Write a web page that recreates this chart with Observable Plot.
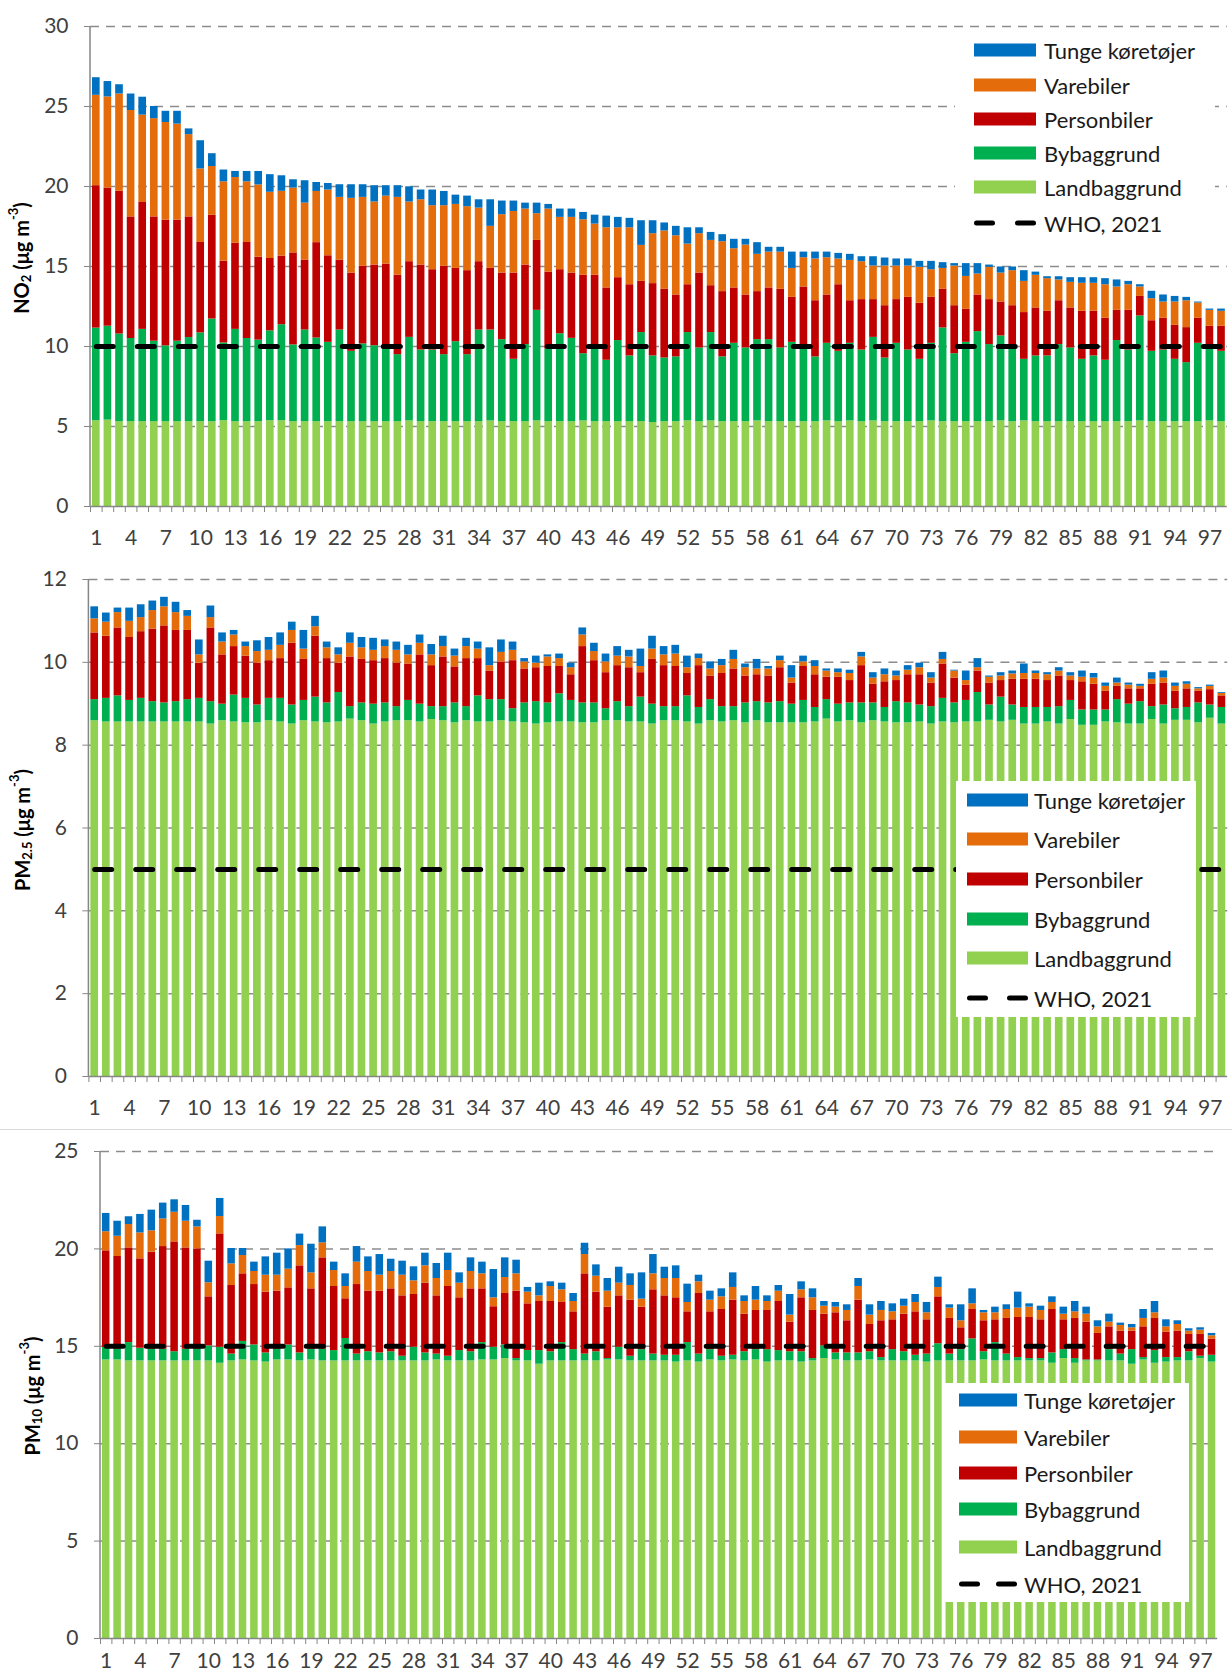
<!DOCTYPE html>
<html><head><meta charset="utf-8">
<script src="https://cdn.jsdelivr.net/npm/d3@7"></script>
<script src="https://cdn.jsdelivr.net/npm/@observablehq/plot@0.6"></script>
<style>
html,body{margin:0;padding:0;background:#fff;overflow:hidden;}
#page{position:relative;width:1232px;height:1678px;overflow:hidden;font-family:Lato, sans-serif;}
.panel{position:absolute;left:0;}
</style></head>
<body><div id="page">
<div id="p1" class="panel" style="top:0"></div>
<div id="p2" class="panel" style="top:555px"></div>
<div style="position:absolute;left:0;top:1129px;width:1232px;height:1px;background:#d9d9d9"></div>
<div id="p3" class="panel" style="top:1130px"></div>
</div>
<script>
// ---- Stack levels (top of each segment), 98 locations ----
// NO2
const no2Land = [
5.36,5.4,5.3,5.3,5.3,5.3,5.3,5.3,5.3,5.3,
5.3,5.36,5.3,5.3,5.3,5.36,5.36,5.3,5.3,5.3,
5.3,5.3,5.3,5.3,5.3,5.3,5.3,5.35,5.3,5.3,
5.3,5.3,5.3,5.3,5.35,5.3,5.3,5.3,5.35,5.3,
5.3,5.3,5.35,5.3,5.3,5.3,5.3,5.3,5.25,5.3,
5.3,5.35,5.3,5.35,5.3,5.3,5.3,5.35,5.3,5.3,
5.3,5.3,5.3,5.35,5.3,5.35,5.3,5.35,5.3,5.3,
5.3,5.3,5.35,5.3,5.3,5.3,5.3,5.3,5.35,5.3,
5.35,5.3,5.3,5.3,5.3,5.3,5.3,5.3,5.3,5.3,
5.35,5.3,5.3,5.3,5.3,5.3,5.35,5.3];
const no2By = [
11.15,11.27,10.78,10.5,11.07,10.33,10.04,10.33,10.56,10.85,
11.72,10.22,11.07,10.5,10.4,10.98,11.36,10.1,11.03,10.53,
10.26,11.03,9.7,10.16,10.05,9.85,9.49,10.57,9.78,9.78,
9.49,10.3,9.49,11.03,11.03,10.43,9.2,10.12,12.26,9.85,
10.8,10.51,9.55,9.85,9.14,10.37,9.41,10.87,9.41,9.28,
9.35,10.87,9.91,10.87,9.35,10.2,9.91,10.43,10.43,9.91,
10.26,9.85,9.35,10.2,9.7,10.2,9.78,10.57,9.28,10.2,
9.78,9.2,10.2,11.16,9.55,10.26,10.93,10.12,10.66,9.91,
9.2,9.41,9.41,10.12,9.91,9.2,9.41,9.14,10.37,9.78,
11.91,9.7,9.78,9.2,8.99,10.2,9.91,9.7];
const no2Person = [
20.05,19.9,19.7,18.1,19.0,18.1,17.9,17.9,18.1,16.5,
18.2,15.33,16.45,16.5,15.58,15.5,15.65,15.85,15.4,16.49,
15.67,15.4,14.59,15.01,15.09,15.15,14.45,15.3,15.09,14.8,
15.01,14.88,14.74,15.3,14.88,14.59,14.59,15.09,16.63,14.65,
14.8,14.59,14.45,14.45,13.66,14.3,13.86,14.07,13.93,13.57,
13.22,13.86,14.59,13.8,13.43,13.66,13.22,13.43,13.66,13.57,
13.07,13.72,12.86,13.22,13.86,12.86,12.93,12.93,12.55,12.93,
13.07,12.7,13.07,13.57,12.55,12.32,13.22,12.93,12.78,12.55,
12.12,12.41,12.2,12.86,12.41,12.2,12.2,11.76,12.26,12.26,
13.13,11.61,11.76,11.32,11.18,11.76,11.26,11.26];
const no2Vare = [
25.7,25.6,25.78,24.75,24.46,24.24,24.0,23.9,23.24,21.1,
21.25,20.29,20.56,20.29,20.1,19.64,19.7,19.9,18.96,19.69,
19.78,19.32,19.26,19.32,19.03,19.4,19.32,19.03,19.17,18.8,
18.8,18.88,18.74,18.65,17.51,18.24,18.44,18.59,18.3,18.59,
18.07,18.07,17.92,17.65,17.42,17.42,17.42,16.32,17.05,17.22,
16.92,16.4,17.05,16.63,16.55,16.11,16.34,15.76,15.9,15.9,
14.88,15.55,15.47,15.55,15.47,15.38,15.3,15.03,15.03,15.03,
15.03,14.95,14.8,14.88,15.03,14.38,14.53,14.95,14.59,14.74,
14.07,14.45,14.24,14.16,14.01,13.95,13.95,13.86,13.72,13.86,
13.72,12.99,12.78,12.78,12.86,12.72,12.26,12.2];
const no2Tunge = [
26.8,26.56,26.36,25.78,25.58,25.0,24.7,24.7,23.6,22.86,
22.05,21.03,20.94,20.94,20.94,20.74,20.67,20.42,20.36,20.25,
20.19,20.11,20.11,20.11,20.05,20.05,20.05,19.98,19.78,19.78,
19.69,19.46,19.4,19.17,19.17,19.09,19.09,18.96,18.96,18.88,
18.59,18.59,18.38,18.21,18.15,18.07,18.01,17.86,17.86,17.72,
17.51,17.42,17.42,17.13,16.99,16.7,16.7,16.49,16.2,16.2,
15.9,15.9,15.9,15.9,15.82,15.76,15.61,15.61,15.53,15.47,
15.47,15.32,15.32,15.24,15.18,15.18,15.18,15.09,14.97,14.97,
14.74,14.65,14.36,14.36,14.3,14.3,14.3,14.24,14.16,14.07,
13.86,13.45,13.22,13.13,13.07,12.78,12.34,12.34];

// PM2.5
const pm25Land = [
8.59,8.56,8.56,8.56,8.56,8.56,8.56,8.56,8.56,8.56,
8.51,8.59,8.56,8.54,8.54,8.59,8.56,8.51,8.59,8.56,
8.54,8.56,8.63,8.59,8.51,8.56,8.59,8.59,8.56,8.62,
8.59,8.54,8.59,8.56,8.56,8.59,8.56,8.54,8.51,8.54,
8.56,8.56,8.54,8.54,8.59,8.59,8.56,8.56,8.51,8.59,
8.59,8.56,8.51,8.59,8.56,8.59,8.54,8.59,8.54,8.54,
8.54,8.54,8.56,8.63,8.56,8.59,8.54,8.59,8.56,8.54,
8.54,8.56,8.51,8.56,8.54,8.56,8.56,8.6,8.56,8.6,
8.51,8.51,8.56,8.51,8.62,8.48,8.48,8.56,8.54,8.51,
8.51,8.62,8.51,8.6,8.6,8.54,8.65,8.51];
const pm25By = [
9.1,9.13,9.19,9.08,9.13,9.05,9.02,9.05,9.1,9.13,
9.05,8.99,9.21,9.13,8.97,9.13,9.13,8.97,9.08,9.16,
9.02,9.27,8.93,9.02,8.99,9.02,8.93,9.08,8.99,8.93,
8.93,9.02,8.93,9.19,9.1,9.1,8.88,9.02,9.05,9.02,
9.24,9.08,9.02,9.02,8.88,9.05,8.93,9.16,8.99,8.93,
8.93,9.19,8.91,9.1,8.93,8.93,9.02,9.05,9.02,9.05,
8.99,9.08,8.91,9.1,8.99,9.02,9.02,9.02,8.91,9.05,
9.02,8.97,8.93,9.13,9.02,9.08,9.27,8.97,9.16,8.97,
8.91,8.91,8.91,8.93,9.08,8.85,8.85,8.85,9.1,8.99,
9.05,8.93,8.97,8.88,8.91,9.02,8.97,8.91];
const pm25Person = [
10.71,10.63,10.83,10.6,10.74,10.8,10.88,10.77,10.77,9.98,
10.83,10.18,10.38,10.15,9.98,10.04,10.09,10.46,10.07,10.63,
10.09,9.98,10.13,10.07,10.04,10.09,9.98,9.96,10.18,9.92,
10.13,9.89,10.09,10.09,9.79,10.01,10.04,9.84,9.87,9.9,
9.9,9.7,10.38,10.04,9.75,9.92,9.87,9.75,10.07,9.92,
9.9,9.73,9.92,9.67,9.73,9.84,9.67,9.7,9.67,9.87,
9.5,9.9,9.7,9.64,9.64,9.56,9.92,9.47,9.53,9.56,
9.7,9.7,9.5,9.96,9.62,9.45,9.79,9.5,9.56,9.59,
9.59,9.59,9.56,9.67,9.56,9.53,9.47,9.3,9.42,9.36,
9.36,9.47,9.5,9.3,9.36,9.3,9.34,9.19];
const pm25Vare = [
11.05,10.97,11.2,10.99,11.08,11.25,11.34,11.2,11.11,10.18,
11.08,10.49,10.66,10.38,10.26,10.29,10.41,10.77,10.32,10.86,
10.35,10.18,10.46,10.35,10.29,10.38,10.29,10.18,10.46,10.18,
10.38,10.15,10.38,10.32,9.92,10.24,10.29,10.01,9.98,10.13,
10.09,9.87,10.66,10.26,10.01,10.15,10.13,9.9,10.32,10.18,
10.2,9.87,10.09,9.84,9.92,10.07,9.87,9.84,9.84,10.04,
9.62,10.01,9.9,9.79,9.75,9.73,10.13,9.62,9.7,9.67,
9.81,9.87,9.62,10.07,9.79,9.56,9.87,9.64,9.67,9.72,
9.73,9.73,9.7,9.79,9.67,9.64,9.62,9.42,9.5,9.45,
9.42,9.59,9.62,9.42,9.47,9.36,9.42,9.25];
const pm25Tunge = [
11.34,11.19,11.31,11.31,11.39,11.48,11.57,11.45,11.25,10.54,
11.36,10.71,10.77,10.49,10.52,10.6,10.71,10.97,10.77,11.11,
10.49,10.35,10.71,10.6,10.58,10.54,10.49,10.41,10.66,10.43,
10.63,10.32,10.58,10.49,10.35,10.54,10.49,10.09,10.15,10.18,
10.2,9.98,10.83,10.46,10.2,10.38,10.29,10.32,10.63,10.38,
10.41,10.15,10.2,10.01,10.07,10.29,9.96,10.07,9.9,10.15,
9.92,10.15,10.04,9.84,9.84,9.81,10.24,9.75,9.84,9.79,
9.92,9.98,9.75,10.24,9.81,9.79,10.09,9.67,9.75,9.79,
9.96,9.79,9.75,9.87,9.75,9.79,9.73,9.5,9.62,9.5,
9.47,9.75,9.79,9.5,9.53,9.39,9.45,9.27];

// PM10
const pm10Land = [
14.3,14.3,14.25,14.25,14.25,14.25,14.25,14.25,14.25,14.25,
14.13,14.25,14.3,14.25,14.19,14.3,14.3,14.25,14.3,14.25,
14.25,14.25,14.25,14.25,14.25,14.25,14.25,14.25,14.25,14.3,
14.25,14.25,14.25,14.3,14.3,14.37,14.25,14.25,14.08,14.25,
14.25,14.25,14.25,14.25,14.3,14.3,14.25,14.25,14.25,14.25,
14.19,14.25,14.19,14.3,14.25,14.3,14.25,14.3,14.19,14.25,
14.25,14.19,14.25,14.37,14.3,14.25,14.25,14.3,14.25,14.25,
14.25,14.25,14.19,14.25,14.25,14.25,14.25,14.3,14.25,14.25,
14.25,14.25,14.25,14.13,14.37,14.13,14.25,14.25,14.25,14.25,
14.08,14.3,14.13,14.19,14.25,14.25,14.37,14.19];
const pm10By = [
14.94,14.85,15.19,14.9,14.85,14.85,14.72,14.85,14.85,15.02,
14.95,14.6,15.25,15.07,14.66,14.85,15.07,14.66,14.85,14.85,
14.78,15.4,14.6,14.72,14.66,14.72,14.49,14.95,14.66,14.6,
14.49,14.78,14.72,15.19,14.95,15.07,14.37,14.78,14.78,14.72,
15.19,14.83,14.6,14.72,14.37,14.95,14.49,14.83,14.6,14.54,
14.54,15.19,14.6,14.83,14.49,14.54,14.72,14.83,14.83,14.78,
14.72,14.72,14.37,15.02,14.66,14.66,14.66,14.72,14.42,14.83,
14.72,14.54,14.6,15.13,14.6,14.83,15.38,14.72,15.19,14.6,
14.42,14.37,14.37,14.66,14.83,14.37,14.3,14.3,14.83,14.6,
14.83,14.42,14.78,14.42,14.42,14.72,14.49,14.54];
const pm10Person = [
19.9,19.61,20.05,19.49,19.83,20.12,20.36,20.05,20.0,17.54,
20.77,18.12,18.72,18.17,17.78,17.83,18.0,19.13,17.95,19.54,
18.07,17.44,18.17,17.83,17.83,17.95,17.59,17.66,18.24,17.59,
18.07,17.49,17.95,17.95,17.03,17.71,17.83,17.18,17.3,17.3,
17.25,16.77,18.72,17.78,17.01,17.59,17.37,17.01,17.9,17.59,
17.49,16.77,17.71,16.77,16.89,17.37,16.65,16.84,16.84,17.3,
16.24,17.49,16.84,16.65,16.72,16.31,17.37,16.12,16.31,16.36,
16.65,16.77,16.36,17.54,16.43,15.95,16.89,16.31,16.36,16.43,
16.48,16.48,16.36,16.89,16.36,16.43,16.24,15.66,16.0,15.78,
15.78,16.0,16.43,15.73,15.78,15.61,15.61,15.37];
const pm10Vare = [
20.88,20.65,21.25,20.82,20.93,21.54,21.88,21.42,21.13,18.26,
21.66,19.23,19.66,18.84,18.65,18.65,18.96,20.17,18.77,20.31,
18.89,18.07,19.32,18.84,18.65,18.84,18.65,18.36,19.13,18.48,
18.89,18.24,18.84,18.72,17.49,18.53,18.72,17.78,17.59,18.07,
17.9,17.3,19.71,18.6,17.83,18.24,18.12,17.42,18.72,18.48,
18.48,17.25,18.31,17.37,17.54,18.02,17.3,17.37,17.3,17.83,
16.6,17.9,17.49,17.06,17.01,16.84,18.07,16.6,16.84,16.77,
17.06,17.25,16.72,18.02,16.96,16.31,17.18,16.72,16.72,16.89,
16.96,17.01,16.84,17.25,16.65,16.77,16.65,16.0,16.24,16.07,
15.95,16.43,16.72,16.0,16.12,15.78,15.83,15.54];
const pm10Tunge = [
21.82,21.42,21.65,21.77,21.99,22.35,22.52,22.23,21.47,19.37,
22.59,20.02,20.02,19.32,19.59,19.78,20.0,20.76,20.24,21.13,
19.32,18.72,20.12,19.59,19.71,19.47,19.37,19.08,19.78,19.25,
19.78,18.77,19.54,19.32,18.94,19.54,19.42,18.02,18.24,18.31,
18.24,17.71,20.29,19.18,18.48,19.06,18.72,18.77,19.71,19.06,
19.13,18.19,18.65,17.83,17.95,18.77,17.59,18.07,17.59,18.12,
17.66,18.31,17.95,17.3,17.25,17.13,18.48,17.13,17.3,17.18,
17.42,17.66,17.25,18.55,17.13,17.13,17.95,16.84,17.01,17.13,
17.78,17.18,17.06,17.54,17.01,17.3,17.01,16.31,16.65,16.19,
16.12,16.89,17.3,16.36,16.31,15.9,15.95,15.66];

const whoNO2 = 10, whoPM25 = 5, whoPM10 = 15;
const categories = d3.range(1, 99);
const labelTicks = categories.filter(c => (c - 1) % 3 === 0);
const sources = ["Landbaggrund", "Bybaggrund", "Personbiler", "Varebiler", "Tunge køretøjer"];
const colors = ["#92D050", "#00B050", "#C00000", "#E46C0A", "#0070C0"];
const legendOrder = ["Tunge køretøjer", "Varebiler", "Personbiler", "Bybaggrund", "Landbaggrund"];

function toRows(levels) {
  const rows = [];
  categories.forEach((c, i) => {
    let prev = 0;
    sources.forEach((s, k) => {
      const top = levels[k][i];
      rows.push({cat: c, source: s, value: Math.max(0, top - prev)});
      prev = Math.max(prev, top);
    });
  });
  return rows;
}

function addTitle(svg, x, y, parts) {
  const t = d3.select(svg).append("text")
    .attr("transform", `translate(${x},${y}) rotate(-90)`)
    .attr("text-anchor", "middle")
    .attr("dominant-baseline", "central")
    .attr("font-family", "Lato, sans-serif")
    .attr("font-weight", "bold")
    .attr("font-size", 20)
    .attr("fill", "#000");
  let shift = 0;
  for (const [txt, kind] of parts) {
    const target = kind === "sub" ? 5 : kind === "sup" ? -8 : 0;
    const ts = t.append("tspan").attr("dy", target - shift).text(txt);
    if (kind) ts.attr("font-size", 13);
    shift = target;
  }
}

function addLegend(svg, L) {
  const g = d3.select(svg).append("g")
    .attr("font-family", "Lato, sans-serif")
    .attr("text-anchor", "start");
  g.append("rect").attr("x", L.bx).attr("y", L.by).attr("width", L.bw).attr("height", L.bh).attr("fill", "white");
  legendOrder.forEach((s, i) => {
    const y = L.rows[i];
    g.append("rect").attr("x", L.sx).attr("y", y - 6.5).attr("width", L.sw).attr("height", 13)
      .attr("fill", colors[sources.indexOf(s)]);
    g.append("text").attr("x", L.tx).attr("y", y).attr("dominant-baseline", "central")
      .attr("text-anchor", "start")
      .attr("font-size", 22).attr("fill", "#1a1a1a").text(s);
  });
  const y = L.rows[5];
  [[L.sx + 2.5, L.sx + 18.5], [L.sx + L.sw - 18.5, L.sx + L.sw - 2.5]].forEach(([a, b]) => {
    g.append("line").attr("x1", a).attr("x2", b).attr("y1", y).attr("y2", y)
      .attr("stroke", "black").attr("stroke-width", 5).attr("stroke-linecap", "round");
  });
  g.append("text").attr("x", L.tx).attr("y", y).attr("dominant-baseline", "central")
    .attr("text-anchor", "start")
    .attr("font-size", 22).attr("fill", "#1a1a1a").text("WHO, 2021");
}

function panel(cfg) {
  const {el, levels, who, yMax, yStep, height, mt, mb, ml, mr, whoDash, xPad} = cfg;
  const width = 1232;
  const rows = toRows(levels);
  const ticks = d3.range(0, yMax + 1e-9, yStep);
  const step = (width - ml - mr) / categories.length;
  const svg = Plot.plot({
    width, height, marginTop: mt, marginBottom: mb, marginLeft: ml, marginRight: mr,
    style: {fontFamily: "Lato, sans-serif", fontSize: "21px", color: "#404040", background: "white", overflow: "visible"},
    x: {domain: categories, type: "band", paddingInner: 0.34, paddingOuter: 0.17, label: null},
    y: {domain: [0, yMax], label: null},
    color: {domain: sources, range: colors},
    marks: [
      Plot.gridY(ticks.filter(t => t > 0), {stroke: "#8c8c8c", strokeOpacity: 1, strokeWidth: 1.5, strokeDasharray: "9,7"}),
      Plot.barY(rows, {x: "cat", y: "value", fill: "source"}),
      Plot.lineY(categories, {x: d => d, y: () => who, stroke: "black", strokeWidth: 5, strokeDasharray: whoDash, strokeLinecap: "round"}),
      Plot.ruleY([0], {stroke: "#868686", strokeWidth: 1.5}),
      Plot.axisY(ticks, {tickSize: 6, tickPadding: 16, stroke: "#868686", fill: "#404040", label: null, tickFormat: d => String(d)}),
      Plot.axisX(categories, {tickSize: 6, tickFormat: () => "", stroke: "#868686", dx: -step / 2, label: null}),
      Plot.axisX(labelTicks, {tickSize: 0, tickPadding: xPad, fill: "#404040", label: null})
    ]
  });
  d3.select(svg).append("line")
    .attr("x1", ml).attr("x2", ml).attr("y1", mt).attr("y2", height - mb)
    .attr("stroke", "#868686").attr("stroke-width", 1.5);
  addTitle(svg, cfg.titleX, cfg.titleY, cfg.title);
  addLegend(svg, cfg.legend);
  document.getElementById(el).appendChild(svg);
}

panel({
  el: "p1", levels: [no2Land, no2By, no2Person, no2Vare, no2Tunge], who: whoNO2,
  yMax: 30, yStep: 5, height: 555, mt: 26, mb: 49, ml: 90, mr: 5.2, whoDash: "17,24", xPad: 23.5,
  titleX: 21, titleY: 258, title: [["NO"], ["2", "sub"], [" (μg m"], ["-3", "sup"], [")"]],
  legend: {bx: 955, by: 33, bw: 260, bh: 207, sx: 974, sw: 62, tx: 1044, rows: [50, 85, 119, 153, 187, 223]}
});
panel({
  el: "p2", levels: [pm25Land, pm25By, pm25Person, pm25Vare, pm25Tunge], who: whoPM25,
  yMax: 12, yStep: 2, height: 574, mt: 24, mb: 53, ml: 88.4, mr: 4.8, whoDash: "17,24", xPad: 23.5,
  titleX: 21.5, titleY: 275, title: [["PM"], ["2.5", "sub"], [" (μg m"], ["-3", "sup"], [")"]],
  legend: {bx: 956, by: 226, bw: 240, bh: 236, sx: 967, sw: 61, tx: 1034, rows: [245, 284, 324, 364, 403, 443]}
});
panel({
  el: "p3", levels: [pm10Land, pm10By, pm10Person, pm10Vare, pm10Tunge], who: whoPM10,
  yMax: 25, yStep: 5, height: 548, mt: 21, mb: 40, ml: 100, mr: 14.8, whoDash: "17,23", xPad: 15,
  titleX: 32, titleY: 266, title: [["PM"], ["10", "sub"], [" (μg m"], ["-3", "sup"], [")"]],
  legend: {bx: 945, by: 253, bw: 244, bh: 219, sx: 959, sw: 58, tx: 1024, rows: [270, 307, 343, 379, 417, 454]}
});
</script>
</body></html>
